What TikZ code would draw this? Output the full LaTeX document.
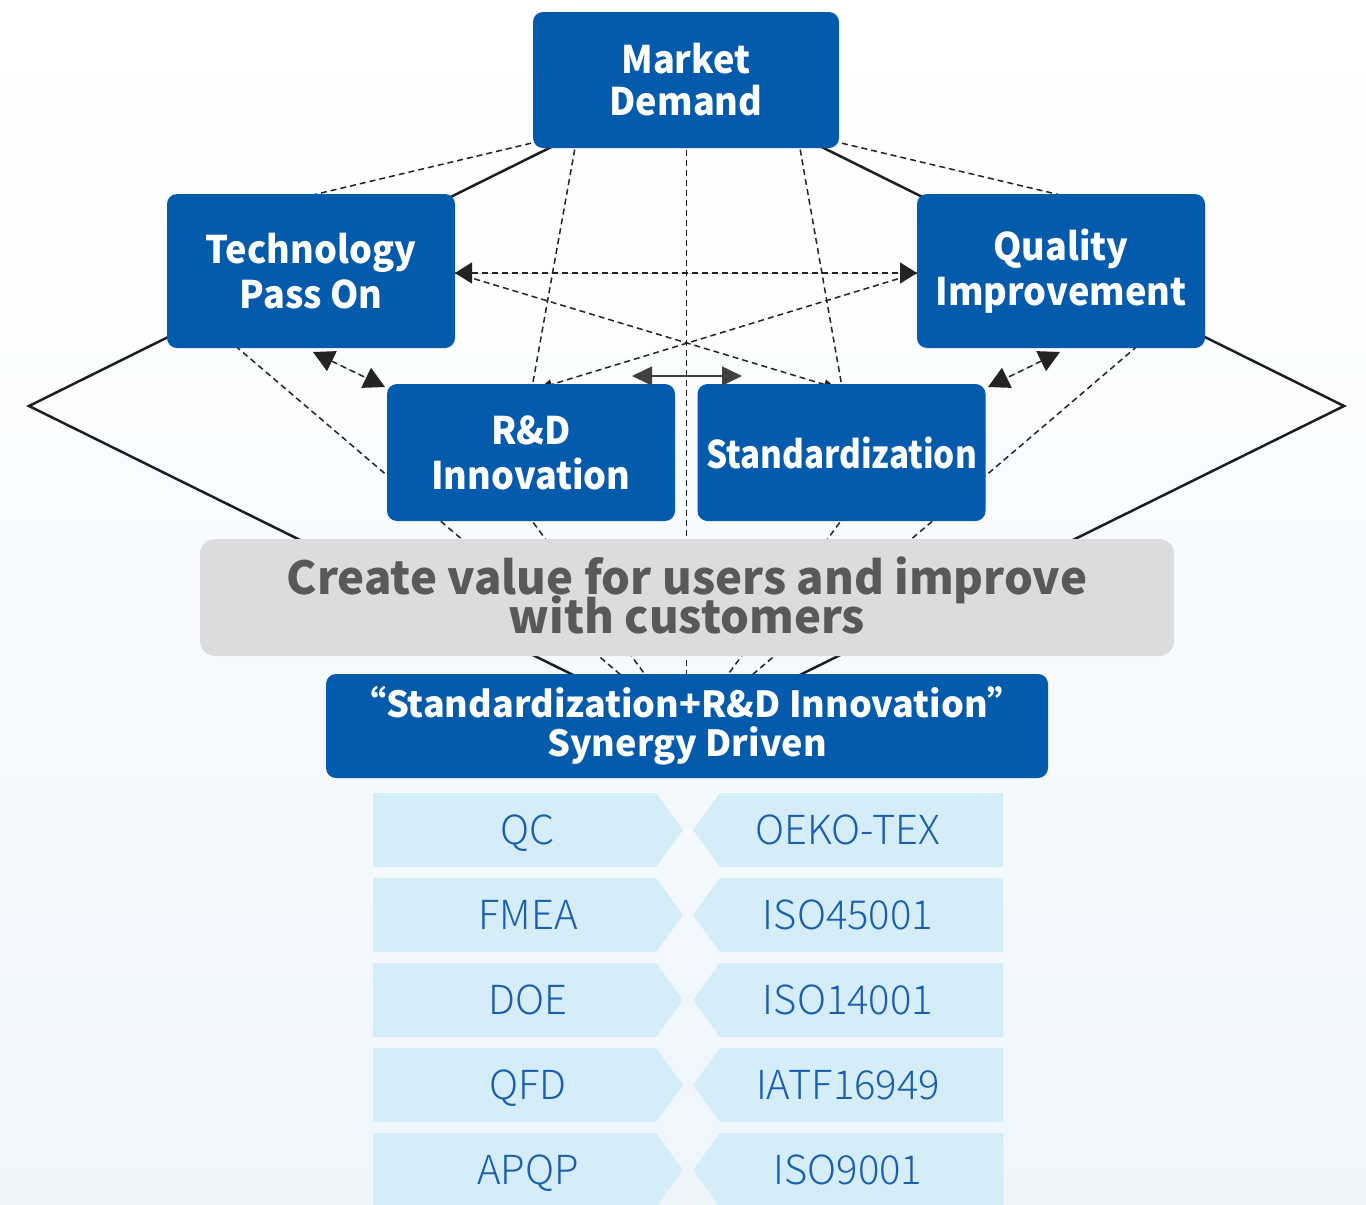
\documentclass[tikz,border=0pt]{standalone}
\usepackage{fontspec}
\setmainfont{Noto Sans CJK SC}
\newfontfamily\titlefont{Noto Sans CJK SC}[FakeStretch=0.95]
\newfontfamily\stdfont{Noto Sans CJK SC}[FakeStretch=0.875]
\IfFontExistsTF{Noto Sans CJK SC Light}{\newfontfamily\lightfont{Noto Sans CJK SC Light}}{\newfontfamily\lightfont{Noto Sans CJK SC}}
\newcommand\tightlines{\lineskiplimit=-100pt\relax\lineskip=0pt\relax}
\usetikzlibrary{arrows.meta}
\definecolor{boxblue}{RGB}{4,90,171}
\definecolor{grayfill}{RGB}{220,220,222}
\definecolor{graytext}{RGB}{88,89,91}
\definecolor{chevfill}{RGB}{213,236,249}
\definecolor{chevtext}{RGB}{26,95,173}
\definecolor{bgblue}{RGB}{238,246,252}
\definecolor{dashcol}{RGB}{35,35,35}
\definecolor{solidcol}{RGB}{30,30,30}
\tikzset{
  bluebox/.style={rectangle, rounded corners=10pt, fill=boxblue, text=white, align=center,
    inner sep=0pt, font=\titlefont\bfseries\fontsize{38}{45}\selectfont\tightlines},
  graybox/.style={rectangle, rounded corners=15pt, fill=grayfill, inner sep=0pt},
  graylabel/.style={text=graytext, align=center, inner sep=0pt,
    font=\bfseries\fontsize{45.5}{39}\selectfont\tightlines},
  chevlabel/.style={text=chevtext, inner sep=0pt, font=\lightfont\fontsize{40}{44}\selectfont},
  chevshape/.style={fill=chevfill},
  solidline/.style={draw=solidcol, line width=2.5pt, line join=miter},
  dashline/.style={draw=dashcol, line width=1.5pt, dash pattern=on 6pt off 4pt},
  bigtips/.style={{Triangle[length=21pt,width=22pt]}-{Triangle[length=21pt,width=22pt]}},
  midtips/.style={{Triangle[length=17pt,width=21pt]}-{Triangle[length=17pt,width=21pt]}},
  smalltip/.style={-{Triangle[length=12pt,width=10pt]}},
}
\begin{document}
\begin{tikzpicture}[x=1pt,y=-1pt]
\useasboundingbox (0,0) rectangle (1366,1205);
\shade[top color=white, bottom color=bgblue, middle color=white!55!bgblue] (0,0) rectangle (1366,1205);

% diamond frame
\coordinate (vt) at (686.5,80);
\coordinate (vl) at (29,406);
\coordinate (vb) at (686.5,731);
\coordinate (vr) at (1344,406);
\draw[solidline] (vt) -- (vl) -- (vb) -- (vr) -- cycle;

% hidden-edge dashed lines
\coordinate (a1) at (570,134);  \coordinate (a2) at (300,198);
\coordinate (a1r) at (803,134); \coordinate (a2r) at (1073,198);
\coordinate (b1) at (580,120);  \coordinate (b2) at (528,410);
\coordinate (b1r) at (795,120); \coordinate (b2r) at (846,410);
\coordinate (h1) at (205,320);  \coordinate (h1r) at (1168,320);
\coordinate (i1) at (480,450);  \coordinate (i1r) at (893,450);
\coordinate (tq1) at (455,273); \coordinate (tq2) at (917,273);
\coordinate (d1) at (836,388);  \coordinate (d2) at (540,388);
\draw[dashline] (a1) -- (a2);
\draw[dashline] (a1r) -- (a2r);
\draw[dashline] (b1) -- (b2);
\draw[dashline] (b1r) -- (b2r);
\draw[dashline] (h1) -- (vb);
\draw[dashline] (h1r) -- (vb);
\draw[dashline] (i1) -- (vb);
\draw[dashline] (i1r) -- (vb);
\draw[dashline] (vt) -- (vb);
\draw[dashline, smalltip] (tq1) -- (d1);
\draw[dashline, smalltip] (tq2) -- (d2);

% chevron rows
\foreach \y/\l/\r [count=\i] in {793/QC/OEKO-TEX, 878/FMEA/ISO45001, 963/DOE/ISO14001, 1048/QFD/IATF16949, 1133/APQP/ISO9001}{
  \fill[chevshape] (373,\y) -- (656,\y) -- (683,\y+37) -- (656,\y+74) -- (373,\y+74) -- cycle;
  \fill[chevshape] (720,\y) -- (1003,\y) -- (1003,\y+74) -- (720,\y+74) -- (693,\y+37) -- cycle;
  \node[chevlabel, anchor=base] (L\i) at (528,\y+51) {\l};
  \node[chevlabel, anchor=base] (R\i) at (848,\y+51) {\r};
}

% boxes
\node[bluebox, minimum width=306pt, minimum height=136pt, font=\titlefont\bfseries\fontsize{38}{42}\selectfont\tightlines] (md) at (686,80) {Market\\Demand};
\node[bluebox, minimum width=288pt, minimum height=154pt] (tech) at (311,271) {Technology\\Pass On};
\node[bluebox, minimum width=288pt, minimum height=154pt] (qi) at (1061,271) {Quality\\Improvement};
\node[bluebox, minimum width=288pt, minimum height=137pt] (rd) at (531,452.5) {R\&D\\Innovation};
\node[bluebox, minimum width=288pt, minimum height=137pt, font=\stdfont\bfseries\fontsize{38}{44}\selectfont] (std) at (841.5,452.5) {Standardization};
\node[graybox, minimum width=974pt, minimum height=117pt] (gb) at (687,597.5) {};
\node[graylabel] (gbt) at (687,595) {Create value for users and improve\\with customers};
\node[bluebox, minimum width=722pt, minimum height=104pt, font=\bfseries\fontsize{36}{39}\selectfont\tightlines] (syn) at (687,726) {“Standardization+R\&D Innovation”\\Synergy Driven};

% arrows on top
\coordinate (t1) at (313,352);  \coordinate (t2) at (385,387);
\coordinate (q1) at (1060,352); \coordinate (q2) at (988,387);
\coordinate (s1) at (632,376);  \coordinate (s2) at (742,376);
\draw[dashline, bigtips, fill=solidcol] (t1) -- (t2);
\draw[dashline, bigtips, fill=solidcol] (q1) -- (q2);
\draw[dashline, midtips, fill=solidcol] (tq1) -- (tq2);
\draw[draw=solidcol!85, line width=1.6pt, {Triangle[length=20pt,width=19pt]}-{Triangle[length=20pt,width=19pt]}] (s1) -- (s2);
\end{tikzpicture}
\end{document}
